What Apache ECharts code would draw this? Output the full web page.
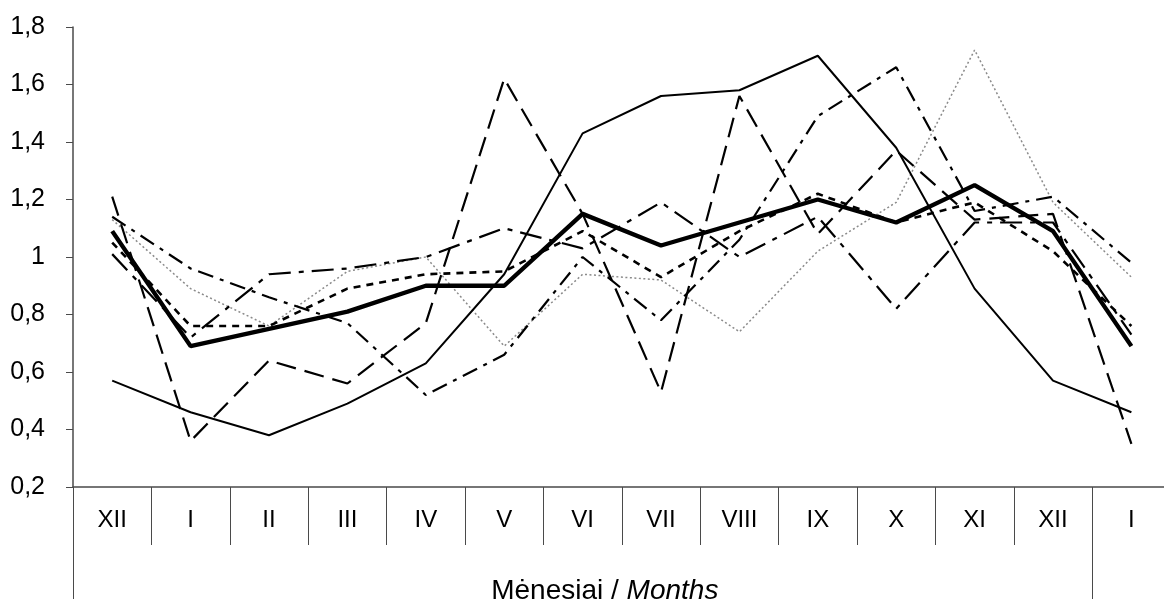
<!DOCTYPE html>
<html>
<head>
<meta charset="utf-8">
<script src="https://cdn.jsdelivr.net/npm/echarts@6/dist/echarts.min.js"></script>
<style>
html,body{margin:0;padding:0;background:#fff;}
#chart{width:1164px;height:599px;}
</style>
</head>
<body>
<div id="chart"></div>
<script>
// ---- data ----
const categories = ['XII','I','II','III','IV','V','VI','VII','VIII','IX','X','XI','XII','I'];
const yTicks = [0.2, 0.4, 0.6, 0.8, 1.0, 1.2, 1.4, 1.6, 1.8];
const average      = [1.09, 0.69, 0.75, 0.81, 0.90, 0.90, 1.15, 1.04, 1.12, 1.20, 1.12, 1.25, 1.09, 0.69];
const seriesSolid  = [0.57, 0.46, 0.38, 0.49, 0.63, 0.94, 1.43, 1.56, 1.58, 1.70, 1.38, 0.89, 0.57, 0.46];
const seriesLongDash = [1.21, 0.36, 0.64, 0.56, 0.77, 1.62, 1.15, 0.53, 1.56, 1.08, 1.37, 1.13, 1.15, 0.35];
const seriesDashDot  = [1.14, 0.96, 0.86, 0.77, 0.52, 0.66, 1.00, 0.78, 1.06, 1.49, 1.66, 1.16, 1.21, 0.98];
const seriesGrey     = [1.13, 0.89, 0.76, 0.95, 1.00, 0.69, 0.94, 0.92, 0.74, 1.02, 1.19, 1.72, 1.19, 0.93];
const seriesShortDash = [1.05, 0.76, 0.76, 0.89, 0.94, 0.95, 1.09, 0.93, 1.09, 1.22, 1.12, 1.19, 1.02, 0.76];
const seriesLongDashDot = [1.01, 0.72, 0.94, 0.96, 1.00, 1.10, 1.03, 1.19, 1.00, 1.14, 0.82, 1.12, 1.12, 0.73];
const groupLabelPlain = 'Mėnesiai / ';
const groupLabelItalic = 'Months';

// ---- chart ----
const chart = echarts.init(document.getElementById('chart'), null, {renderer: 'canvas'});
const FONT = '"Liberation Sans", Arial, sans-serif';
const AXIS_COLOR = '#4a4a4a';

function mkLine(name, data, style, z) {
  return {
    name: name, type: 'line', data: data, symbol: 'none', smooth: false,
    lineStyle: style, z: z || 2, animation: false, silent: true
  };
}

const option = {
  animation: false,
  backgroundColor: '#fff',
  grid: {left: 73, top: 27, width: 1097.6, height: 460, containLabel: false, outerBoundsMode: 'none'},
  xAxis: [{
    type: 'category',
    data: categories,
    boundaryGap: true,
    position: 'bottom',
    axisLine: {show: true, lineStyle: {color: AXIS_COLOR, width: 1.5}},
    axisTick: {show: true, inside: false, length: 58, interval: 0, lineStyle: {color: AXIS_COLOR, width: 1}},
    axisLabel: {show: true, interval: 0, margin: 21, fontSize: 24, color: '#000', fontFamily: FONT},
    splitLine: {show: false},
    name: '{a|' + groupLabelPlain + '}{b|' + groupLabelItalic + '}',
    nameLocation: 'middle',
    nameGap: 90,
    nameTextStyle: {
      padding: [0, 34, 0, 0],
      rich: {
        a: {fontSize: 28, fontFamily: FONT, color: '#000'},
        b: {fontSize: 28, fontFamily: FONT, color: '#000', fontStyle: 'italic'}
      }
    }
  }, {
    type: 'category',
    data: categories,
    boundaryGap: true,
    position: 'bottom',
    axisLine: {show: false},
    axisTick: {show: true, length: 115, interval: function (i) { return i === 0 || i === 13; }, lineStyle: {color: AXIS_COLOR, width: 1}},
    axisLabel: {show: false},
    splitLine: {show: false}
  }],
  yAxis: {
    type: 'value',
    min: yTicks[0],
    max: yTicks[yTicks.length - 1],
    interval: 0.2,
    axisLine: {show: true, lineStyle: {color: AXIS_COLOR, width: 1.5}},
    axisTick: {show: true, length: 7, lineStyle: {color: AXIS_COLOR}},
    splitLine: {show: false},
    axisLabel: {
      margin: 28, fontSize: 25, color: '#000', fontFamily: FONT,
      formatter: function (v) { return String(+v.toFixed(1)).replace('.', ','); }
    }
  },
  series: [
    mkLine('grey', seriesGrey, {color: '#8a8a8a', width: 1.5, type: [2, 2.5]}, 2),
    mkLine('solid', seriesSolid, {color: '#000', width: 2, type: 'solid'}, 3),
    mkLine('longDash', seriesLongDash, {color: '#000', width: 2.2, type: [20, 9]}, 3),
    mkLine('dashDot', seriesDashDot, {color: '#000', width: 2.2, type: [16, 7, 4, 7]}, 3),
    mkLine('shortDash', seriesShortDash, {color: '#000', width: 2.6, type: [7, 6]}, 3),
    mkLine('longDashDot', seriesLongDashDot, {color: '#000', width: 2.2, type: [22, 8, 5, 8]}, 3),
    mkLine('average', average, {color: '#000', width: 4.4, type: 'solid'}, 4)
  ]
};
chart.setOption(option);
</script>
</body>
</html>
